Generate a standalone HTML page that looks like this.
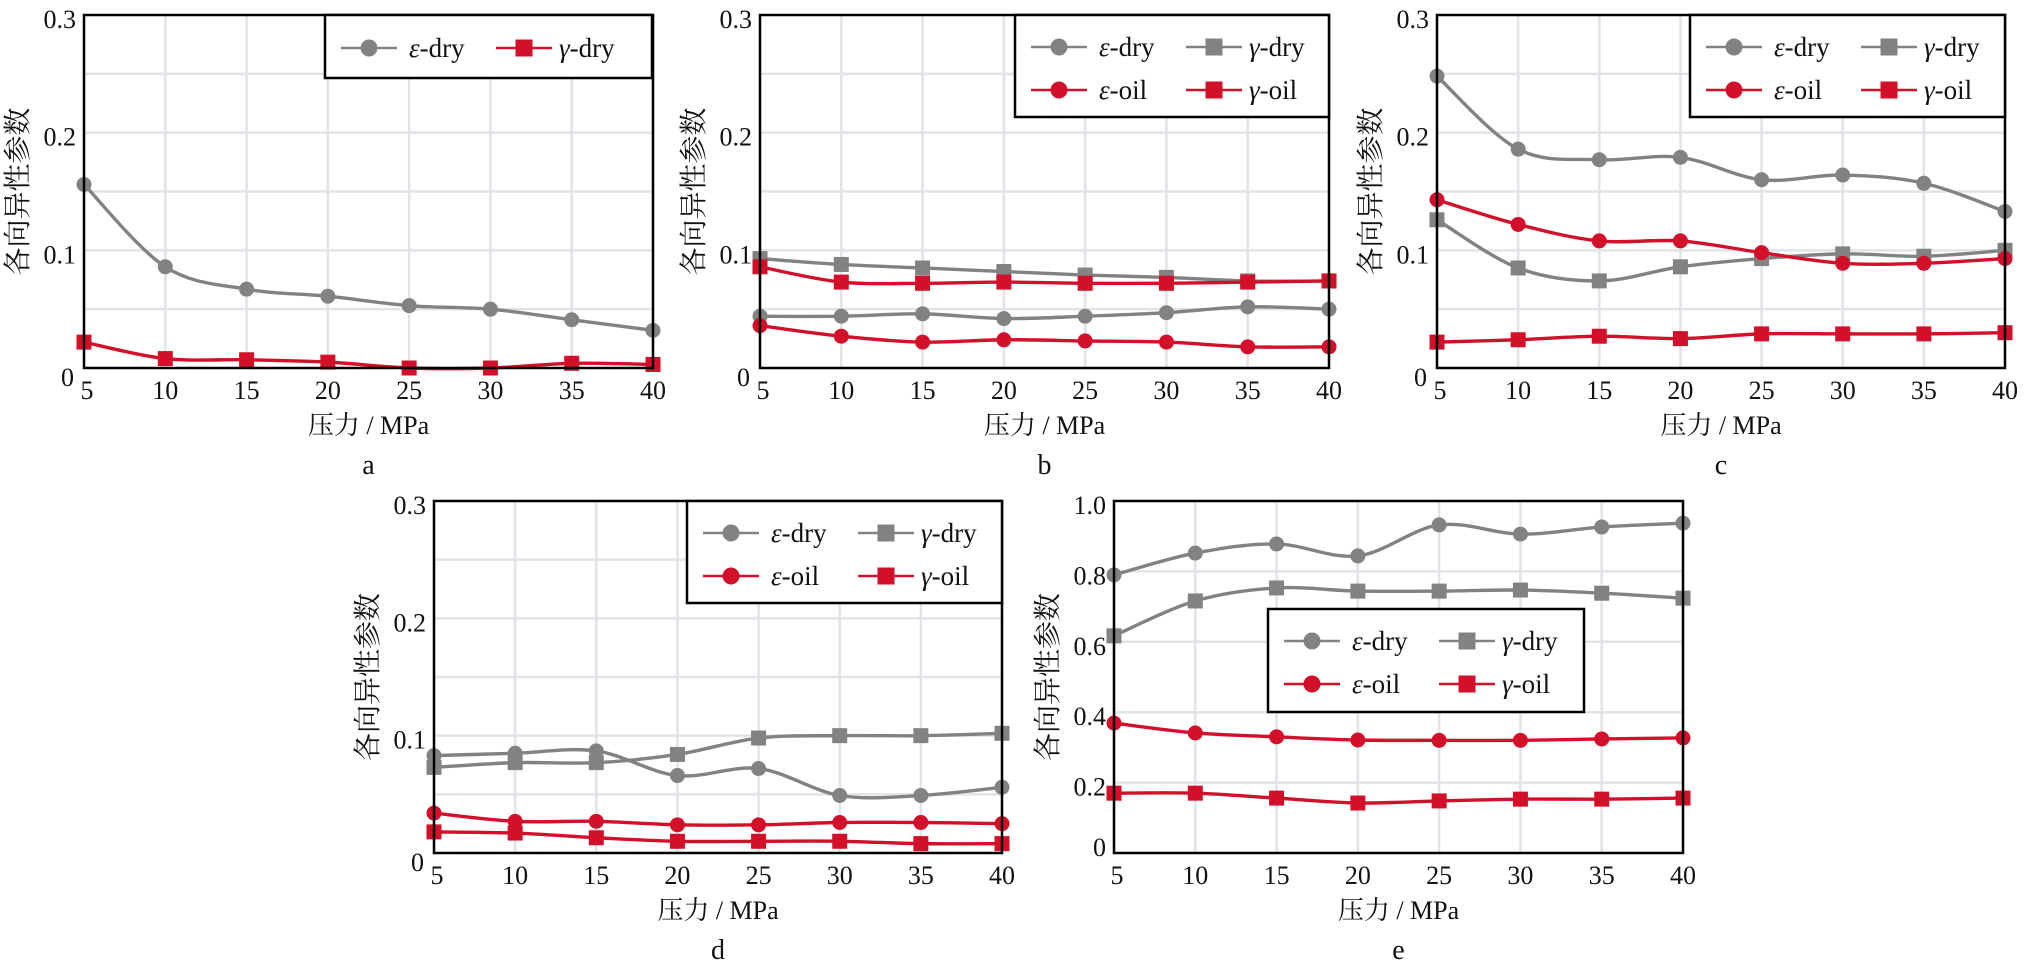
<!DOCTYPE html>
<html><head><meta charset="utf-8"><style>
body{margin:0;background:#fff}
svg{display:block;font-family:"Liberation Serif","Noto Serif CJK SC",serif}
svg text{font-family:"Liberation Serif","Noto Serif CJK SC",serif}
svg text.cjk{font-family:"Noto Serif CJK SC","Noto Sans CJK SC",serif}
</style></head><body>
<svg id="fig" width="2024" height="967" viewBox="0 0 2024 967" xmlns="http://www.w3.org/2000/svg"></svg>
<script>
const pressures = [5,10,15,20,25,30,35,40];
const xTickLabels = ["5","10","15","20","25","30","35","40"];
const yTicksSmall = [0,0.1,0.2,0.3];
const yTickLabelsSmall = ["0","0.1","0.2","0.3"];
const yTicksE = [0,0.2,0.4,0.6,0.8,1.0];
const yTickLabelsE = ["0","0.2","0.4","0.6","0.8","1.0"];

const aEpsDry = [0.156,0.086,0.067,0.061,0.053,0.050,0.041,0.032];
const aGamDry = [0.022,0.008,0.007,0.005,0.000,0.000,0.004,0.003];

const bEpsDry = [0.044,0.044,0.046,0.042,0.044,0.047,0.052,0.050];
const bGamDry = [0.093,0.088,0.085,0.082,0.079,0.077,0.074,0.074];
const bEpsOil = [0.036,0.027,0.022,0.024,0.023,0.022,0.018,0.018];
const bGamOil = [0.086,0.073,0.072,0.073,0.072,0.072,0.073,0.074];

const cEpsDry = [0.248,0.186,0.177,0.179,0.160,0.164,0.157,0.133];
const cGamDry = [0.126,0.085,0.074,0.086,0.093,0.097,0.095,0.100];
const cEpsOil = [0.143,0.122,0.108,0.108,0.098,0.089,0.089,0.093];
const cGamOil = [0.022,0.024,0.027,0.025,0.029,0.029,0.029,0.030];

const dEpsDry = [0.083,0.085,0.087,0.066,0.072,0.049,0.049,0.056];
const dGamDry = [0.073,0.077,0.077,0.084,0.098,0.100,0.100,0.102];
const dEpsOil = [0.034,0.027,0.027,0.024,0.024,0.026,0.026,0.025];
const dGamOil = [0.018,0.017,0.013,0.010,0.010,0.010,0.008,0.008];

const eEpsDry = [0.790,0.852,0.878,0.844,0.932,0.906,0.926,0.937];
const eGamDry = [0.617,0.716,0.753,0.744,0.744,0.747,0.738,0.724];
const eEpsOil = [0.369,0.341,0.330,0.321,0.320,0.320,0.324,0.327];
const eGamOil = [0.170,0.170,0.156,0.142,0.148,0.153,0.153,0.156];

const GRAY="#828282", RED="#d3102a";
const NS="http://www.w3.org/2000/svg";
const svg=document.getElementById('fig');
function mk(tag,attrs,parent){const e=document.createElementNS(NS,tag);for(const k in attrs)e.setAttribute(k,attrs[k]);(parent||svg).appendChild(e);return e;}

const panels=[
 {id:'a',L:84,R:653,T:15,B:368,ymax:0.3,ticks:yTicksSmall,tl:yTickLabelsSmall,minor:0.05,
  leg:{x:325,y:15,w:327,h:63},series:[
   {name:'eps-dry',sym:'ε',suf:'-dry',vals:aEpsDry,col:GRAY,mk:'c'},
   {name:'gam-dry',sym:'γ',suf:'-dry',vals:aGamDry,col:RED,mk:'s'}]},
 {id:'b',L:760,R:1329,T:15,B:368,ymax:0.3,ticks:yTicksSmall,tl:yTickLabelsSmall,minor:0.05,
  leg:{x:1015,y:15,w:314,h:102},series:[
   {name:'eps-dry',sym:'ε',suf:'-dry',vals:bEpsDry,col:GRAY,mk:'c'},
   {name:'gam-dry',sym:'γ',suf:'-dry',vals:bGamDry,col:GRAY,mk:'s'},
   {name:'eps-oil',sym:'ε',suf:'-oil',vals:bEpsOil,col:RED,mk:'c'},
   {name:'gam-oil',sym:'γ',suf:'-oil',vals:bGamOil,col:RED,mk:'s'}]},
 {id:'c',L:1437,R:2005,T:15,B:368,ymax:0.3,ticks:yTicksSmall,tl:yTickLabelsSmall,minor:0.05,
  leg:{x:1690,y:15,w:315,h:102},series:[
   {name:'eps-dry',sym:'ε',suf:'-dry',vals:cEpsDry,col:GRAY,mk:'c'},
   {name:'gam-dry',sym:'γ',suf:'-dry',vals:cGamDry,col:GRAY,mk:'s'},
   {name:'eps-oil',sym:'ε',suf:'-oil',vals:cEpsOil,col:RED,mk:'c'},
   {name:'gam-oil',sym:'γ',suf:'-oil',vals:cGamOil,col:RED,mk:'s'}]},
 {id:'d',L:434,R:1002,T:501,B:853,ymax:0.3,ticks:yTicksSmall,tl:yTickLabelsSmall,minor:0.05,
  leg:{x:687,y:501,w:315,h:102},series:[
   {name:'eps-dry',sym:'ε',suf:'-dry',vals:dEpsDry,col:GRAY,mk:'c'},
   {name:'gam-dry',sym:'γ',suf:'-dry',vals:dGamDry,col:GRAY,mk:'s'},
   {name:'eps-oil',sym:'ε',suf:'-oil',vals:dEpsOil,col:RED,mk:'c'},
   {name:'gam-oil',sym:'γ',suf:'-oil',vals:dGamOil,col:RED,mk:'s'}]},
 {id:'e',L:1114,R:1683,T:501,B:853,ymax:1.0,ticks:yTicksE,tl:yTickLabelsE,minor:0,
  leg:{x:1268,y:609,w:316,h:103},series:[
   {name:'eps-dry',sym:'ε',suf:'-dry',vals:eEpsDry,col:GRAY,mk:'c'},
   {name:'gam-dry',sym:'γ',suf:'-dry',vals:eGamDry,col:GRAY,mk:'s'},
   {name:'eps-oil',sym:'ε',suf:'-oil',vals:eEpsOil,col:RED,mk:'c'},
   {name:'gam-oil',sym:'γ',suf:'-oil',vals:eGamOil,col:RED,mk:'s'}]}
];

function smoothPath(pts){
  let d=`M${pts[0][0]},${pts[0][1]}`;
  for(let i=0;i<pts.length-1;i++){
    const p0=pts[Math.max(i-1,0)],p1=pts[i],p2=pts[i+1],p3=pts[Math.min(i+2,pts.length-1)];
    const t=6;
    const c1=[p1[0]+(p2[0]-p0[0])/t,p1[1]+(p2[1]-p0[1])/t];
    const c2=[p2[0]-(p3[0]-p1[0])/t,p2[1]-(p3[1]-p1[1])/t];
    d+=` C${c1[0]},${c1[1]} ${c2[0]},${c2[1]} ${p2[0]},${p2[1]}`;
  }
  return d;
}
function marker(g,type,x,y,col,sz){
  if(type==='c'){return mk('circle',{cx:x,cy:y,r:sz/2,fill:col},g);}
  return mk('rect',{x:x-sz/2,y:y-sz/2,width:sz,height:sz,fill:col},g);
}
const SERIF='"Liberation Serif","Times New Roman",serif';

panels.forEach(p=>{
  const g=mk('g',{});
  
  
  const xs=v=>p.L+(v-5)/35*(p.R-p.L);
  const ys=v=>p.B-v/p.ymax*(p.B-p.T);
  const grid=mk('g',{stroke:'#e2e3e8','stroke-width':2.5},g);
  
  
  pressures.forEach(v=>mk('line',{x1:xs(v),x2:xs(v),y1:p.T,y2:p.B},grid));
  const step=p.minor||(p.ticks[1]-p.ticks[0]);
  for(let v=step;v<p.ymax-1e-9;v+=step)mk('line',{x1:p.L,x2:p.R,y1:ys(v),y2:ys(v)},grid);
  p.series.forEach(s=>{
    const sg=mk('g',{},g);
    
    
    const pts=s.vals.map((v,i)=>[xs(pressures[i]),ys(v)]);
    mk('path',{d:smoothPath(pts),fill:'none',stroke:s.col,'stroke-width':3.4},sg);
    pts.forEach(pt=>{const m=marker(sg,s.mk,pt[0],pt[1],s.col,15);
      
      });
  });
  const fr=mk('rect',{x:p.L,y:p.T,width:p.R-p.L,height:p.B-p.T,fill:'none',stroke:'#000','stroke-width':2.5},g);
  
  
  pressures.forEach((v,i)=>{
    const t=mk('text',{x:xs(v)+(i===0?3:0),y:p.B+31,'font-size':26,'text-anchor':'middle',fill:'#111','font-family':SERIF},g);
    t.textContent=xTickLabels[i];
    
    
  });
  p.ticks.forEach((v,i)=>{
    const isZero=i===0;
    const t=mk('text',{x:p.L-(isZero&&p.id!=='e'?10:8),y:ys(v)+(isZero?(p.id==='e'?3:18):13),'font-size':26,'text-anchor':'end',fill:'#111','font-family':SERIF},g);
    t.textContent=p.tl[i];
    
    
  });
  const xt=mk('text',{x:(p.L+p.R)/2,y:p.B+66,'font-size':26,'text-anchor':'middle',fill:'#111','font-family':'"Liberation Serif","Noto Serif CJK SC",serif'},g);
  xt.textContent='压力 / MPa';
  
  
  const cy=(p.T+p.B)/2;
  const yt=mk('text',{class:'cjk',x:p.L-68,y:cy,'font-size':28,'text-anchor':'middle','dominant-baseline':'central',fill:'#111',transform:`rotate(-90 ${p.L-68} ${cy})`},g);
  yt.textContent='各向异性参数';
  
  
  const pl=mk('text',{x:(p.L+p.R)/2,y:p.B+106,'font-size':28,'text-anchor':'middle',fill:'#111','font-family':SERIF},g);
  pl.textContent=p.id;
  
  
  const L=p.leg;
  const lg=mk('g',{},g);
  
  
  mk('rect',{x:L.x,y:L.y,width:L.w,height:L.h,fill:'#fff',stroke:'#000','stroke-width':2.5},lg);
  p.series.forEach((s,i)=>{
    const col=i%2,row=Math.floor(i/2);
    const ox=L.x+(col?171:16), oy=L.y+(p.series.length===2?33:32+row*43);
    const eg=mk('g',{},lg);
    
    
    mk('line',{x1:ox,x2:ox+56,y1:oy,y2:oy,stroke:s.col,'stroke-width':2.5},eg);
    marker(eg,s.mk,ox+28,oy,s.col,17);
    const t=mk('text',{x:ox+(col?63:68),y:oy+9,'font-size':27,fill:'#111','font-family':SERIF},eg);
    const ts=mk('tspan',{'font-style':'italic'},t);ts.textContent=s.sym;
    const ts2=mk('tspan',{},t);ts2.textContent=s.suf;
  });
});
</script>
</body></html>
